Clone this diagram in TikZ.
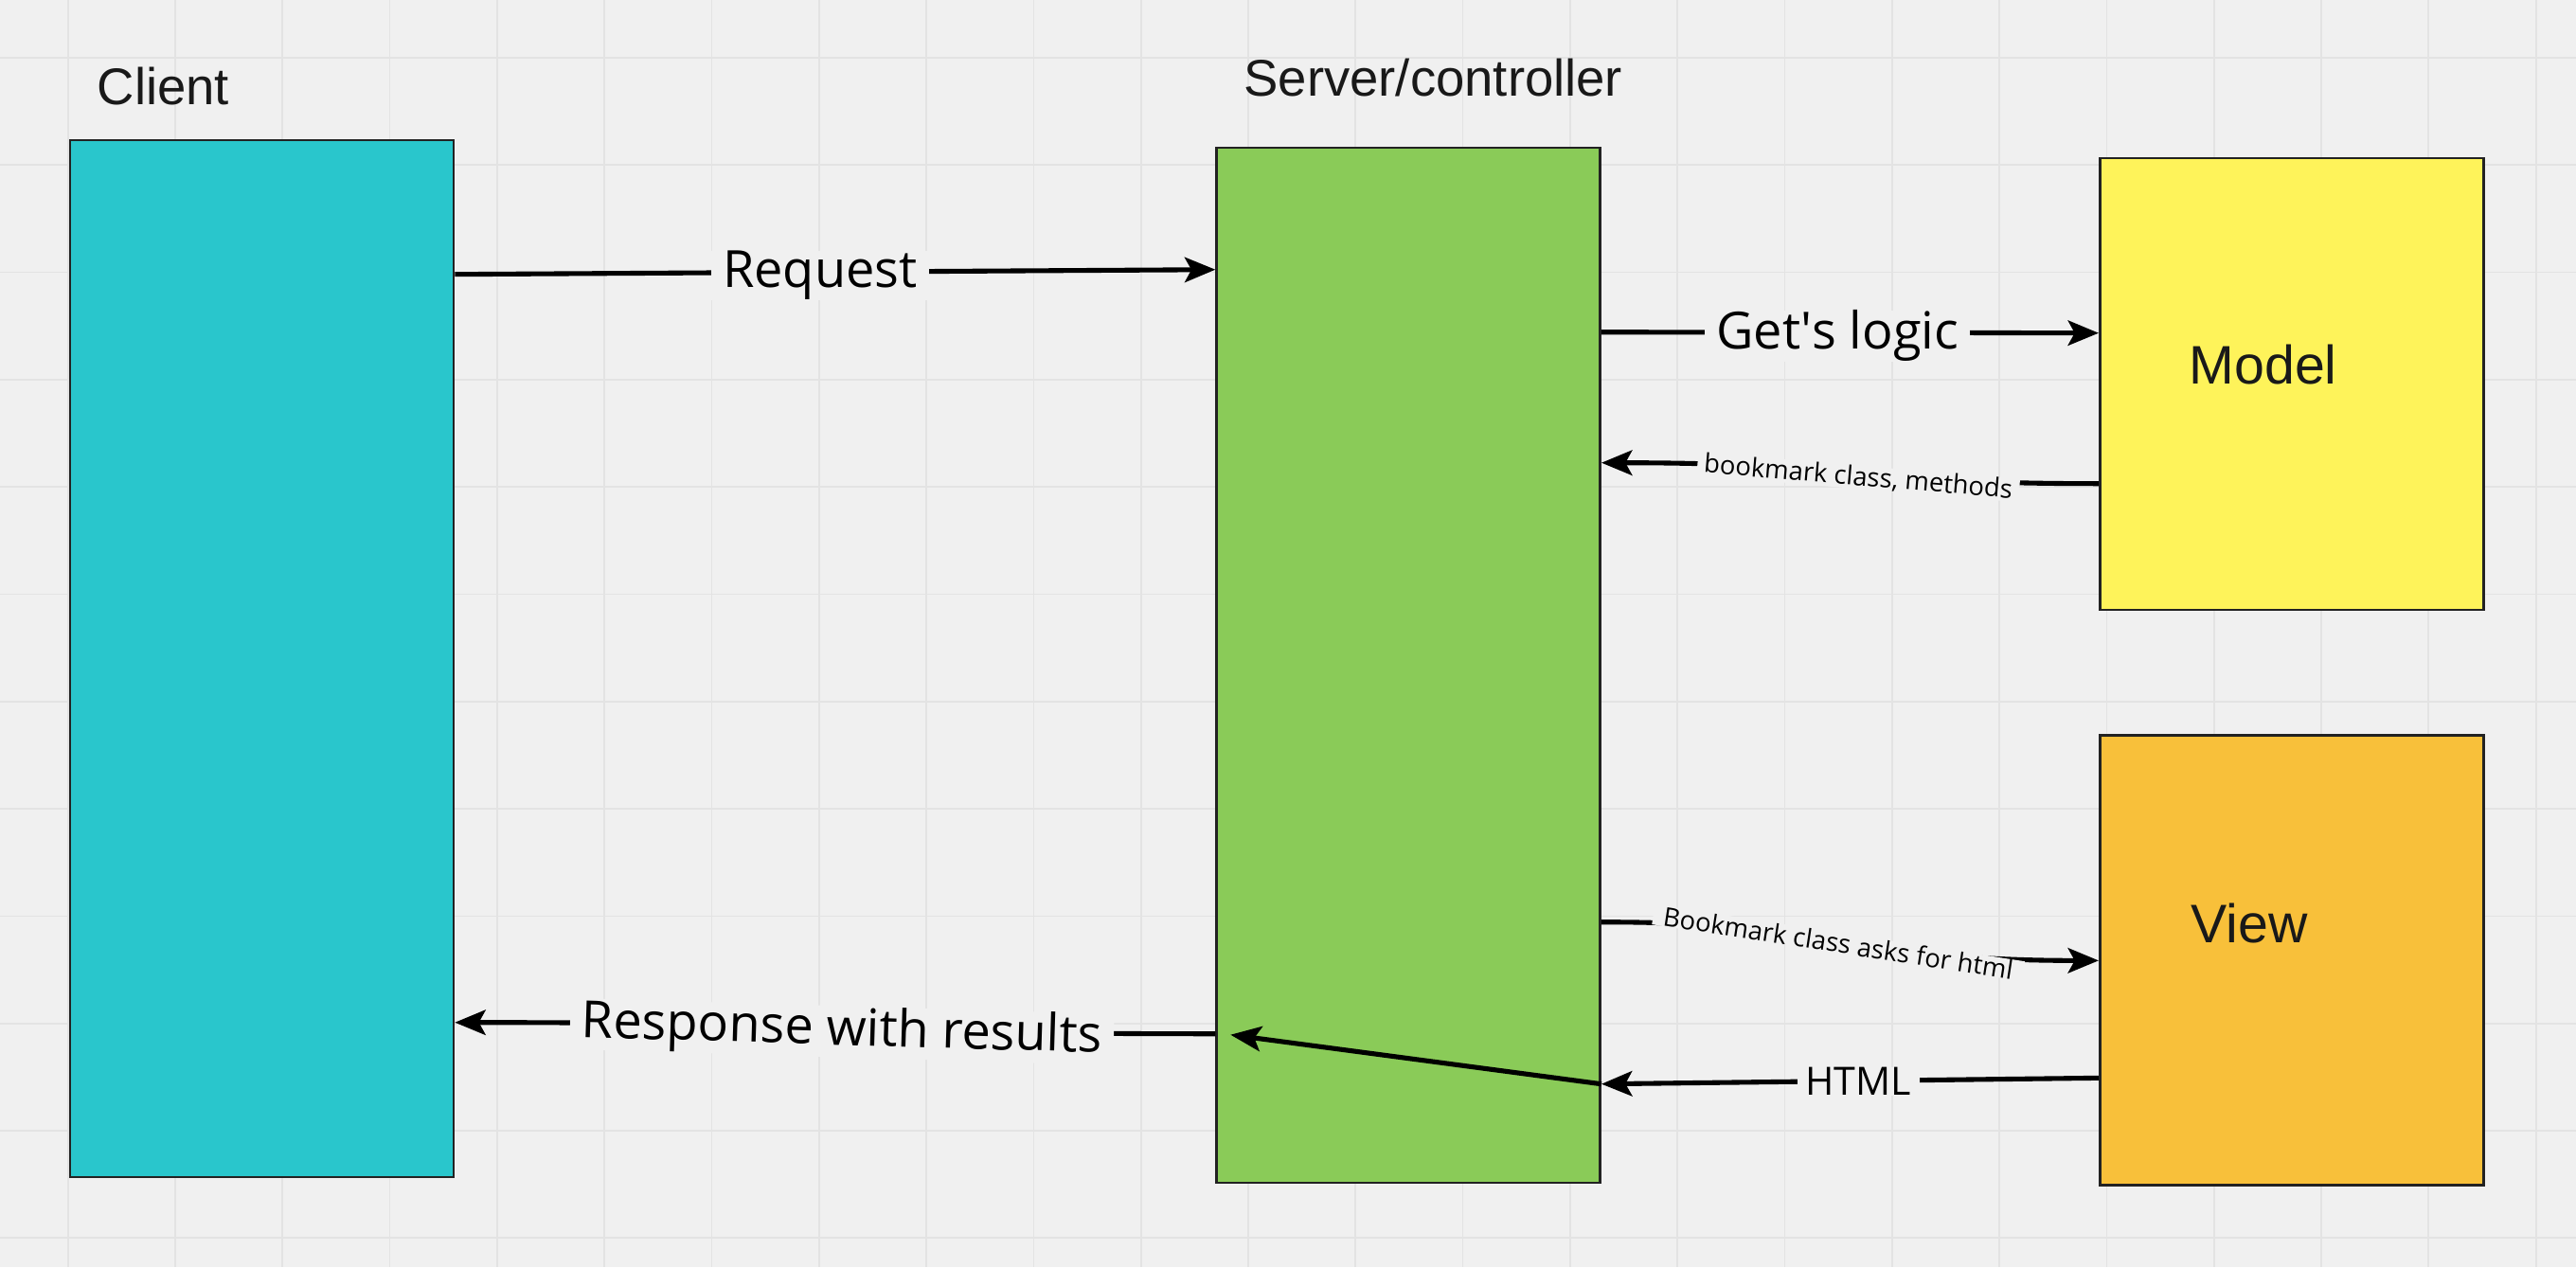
\documentclass[tikz,border=0pt]{standalone}
\usepackage{fontspec}
\setmainfont{Liberation Sans}
\newfontfamily\opensans{Open Sans}
\usetikzlibrary{positioning,arrows.meta}
\definecolor{bg}{HTML}{F0F0F0}
\definecolor{gridc}{HTML}{E3E3E3}
\definecolor{clientc}{HTML}{29C6CC}
\definecolor{serverc}{HTML}{8ACB58}
\definecolor{modelc}{HTML}{FEF35A}
\definecolor{viewc}{HTML}{F8C03A}
\definecolor{edge}{HTML}{222222}

\begin{document}
\begin{tikzpicture}[>={Stealth[length=9.2pt,width=7.5pt,inset=2pt]},
    box/.style={draw=edge, line width=0.75pt, rectangle, inner sep=0pt, minimum width=4.05cm},
    boxtitle/.style={inner sep=0pt, anchor=base west, text=black!90, font=\fontsize{15.5}{18}\selectfont},
    conn/.style={->, line width=1.45pt},
    lbl/.style={fill=bg, inner ysep=0pt, inner xsep=0.12cm, yshift=-0.035cm, font=\opensans\fontsize{15.4}{18}\selectfont},
    smalllbl/.style={lbl, inner xsep=0.07cm, yshift=0cm, font=\opensans\fontsize{7.8}{9}\selectfont}]

  % Fondo y cuadrícula
  \fill[bg] (0,0) rectangle (27.2,-13.38);
  \useasboundingbox (0,0) rectangle (27.2,-13.38);
  \foreach \gx in {0,...,23} \draw[gridc, line width=0.5pt] ({0.717+1.133*\gx},0) -- ++(0,-13.38);
  \foreach \gy in {0,...,11} \draw[gridc, line width=0.5pt] (0,{-0.61-1.133*\gy}) -- ++(27.2,0);

  % Cajas
  \node[box, fill=clientc, minimum height=10.95cm] (client) at (2.765,-6.955) {};
  \node[box, fill=serverc, minimum height=10.93cm, right=8.03cm of client, yshift=-0.07cm] (server) {};
  \node[box, fill=modelc, minimum height=4.77cm, right=5.25cm of server.north east, anchor=north west, yshift=-0.11cm] (model) {};
  \node[box, fill=viewc, minimum height=4.75cm, below=1.30cm of model] (view) {};

  % Títulos
  \node[boxtitle] (clientlbl) at ([xshift=0.293cm, yshift=0.36cm]client.north west) {Client};
  \node[boxtitle] (serverlbl) at ([xshift=0.295cm, yshift=0.53cm]server.north west) {Server/controller};
  \node[boxtitle, font=\fontsize{16.3}{19}\selectfont] (modellbl) at ([xshift=0.95cm, yshift=-2.40cm]model.north west) {Model};
  \node[boxtitle, font=\fontsize{16.3}{19}\selectfont] (viewlbl) at ([xshift=0.97cm, yshift=-2.20cm]view.north west) {View};

  % Conexiones cliente / servidor
  \draw[conn] ([yshift=-1.43cm]client.north east) -- node[lbl, pos=0.48] (reqlbl) {Request} ([yshift=-1.30cm]server.north west);
  \draw[conn] ([yshift=-9.37cm]server.north west) .. controls +(-4,0) and +(4,0) .. node[lbl, sloped, pos=0.488] (resplbl) {Response with results} ([yshift=-9.33cm]client.north east);

  % Conexiones servidor / modelo
  \draw[conn] ([yshift=-1.96cm]server.north east) -- node[lbl, pos=0.475] (logiclbl) {Get\textquotesingle s logic} ([yshift=-1.86cm]model.north west);
  \draw[conn] ([yshift=-3.45cm]model.north west) .. controls +(-2.64,0) and +(2.64,0) .. node[smalllbl, sloped, pos=0.477] (classlbl) {bookmark class, methods} ([yshift=-3.34cm]server.north east);

  % Conexiones servidor / vista
  \coordinate (htmlin) at ([yshift=-9.90cm]server.north east);
  \coordinate (relay) at ([xshift=0.16cm, yshift=-9.38cm]server.north west);
  \draw[conn] ([yshift=-8.19cm]server.north east) .. controls +(2.63,0) and +(-2.63,0) .. node[smalllbl, sloped, inner xsep=0.11cm, pos=0.47] (askslbl) {Bookmark class asks for html} ([yshift=-2.39cm]view.north west);
  \draw[conn] ([yshift=-3.63cm]view.north west) -- node[lbl, inner xsep=0.09cm, yshift=0.03cm, font=\opensans\fontsize{11.7}{14}\selectfont, pos=0.483] (htmllbl) {HTML} (htmlin);
  \draw[conn] (htmlin) -- (relay);

\end{tikzpicture}
\end{document}
